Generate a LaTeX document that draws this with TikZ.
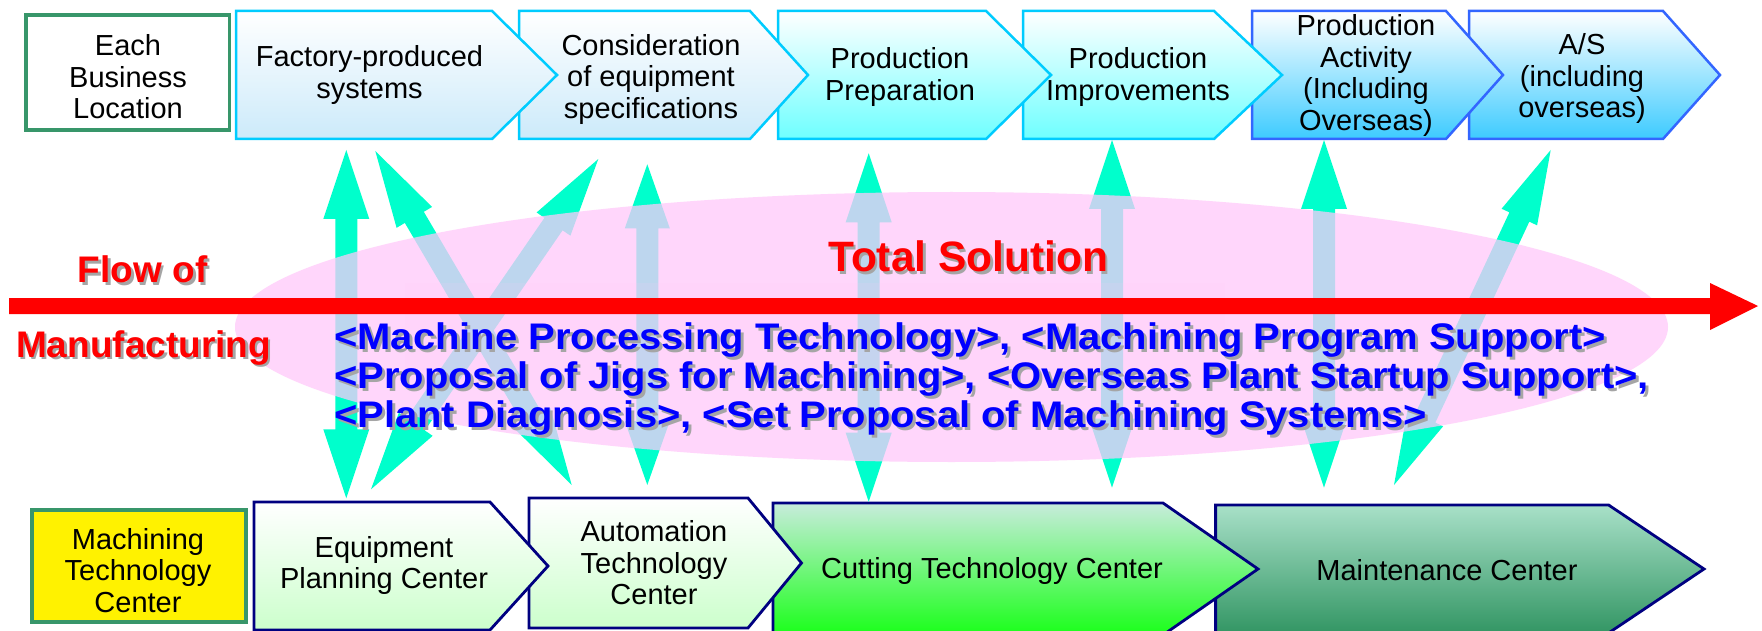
\documentclass[tikz,border=0pt]{standalone}
\usepackage{fontspec}
\setmainfont{Liberation Sans}
\newfontfamily\widesans[FakeStretch=1.08]{Liberation Sans}
\usetikzlibrary{calc}

\definecolor{cyanline}{RGB}{0,204,255}
\definecolor{blueline}{RGB}{51,102,255}
\definecolor{fillA}{RGB}{204,234,250}
\definecolor{fillB}{RGB}{110,255,255}
\definecolor{fillC}{RGB}{61,203,255}
\definecolor{navyline}{RGB}{0,0,128}
\definecolor{palegreen}{RGB}{204,255,204}
\definecolor{cuttop}{RGB}{200,236,220}
\definecolor{cutmid}{RGB}{120,244,140}
\definecolor{cutbot}{RGB}{26,255,26}
\definecolor{maintop}{RGB}{168,224,200}
\definecolor{mainbot}{RGB}{51,150,100}
\definecolor{frameGreen}{RGB}{56,150,106}
\definecolor{arrowcyan}{RGB}{0,255,204}
\definecolor{pinkfill}{RGB}{255,201,250}
\definecolor{flowred}{RGB}{255,0,0}
\definecolor{textblue}{RGB}{0,0,255}
\definecolor{shadowgray}{RGB}{165,165,165}

% chevron: #1 style, #2 left, #3 body right, #4 tip x, #5 top y, #6 bottom y
\newcommand\chevron[6]{\path[#1] (#2,#5) -- (#3,#5) -- (#4,{(#5+#6)/2}) -- (#3,#6) -- (#2,#6) -- cycle;}
% double block arrow between named coordinates #1 and #2; #3 head length; #4 head half width
\newcommand\dblarrow[4]{%
  \coordinate (hA) at ($(#1)!#3!(#2)$);
  \coordinate (hB) at ($(#2)!#3!(#1)$);
  \fill[arrowcyan] (#1) -- ($(hA)!#4!90:(#2)$) -- ($(hA)!11pt!90:(#2)$)
    -- ($(hB)!11pt!-90:(#1)$) -- ($(hB)!#4!-90:(#1)$) -- (#2)
    -- ($(hB)!#4!90:(#1)$) -- ($(hB)!11pt!90:(#1)$)
    -- ($(hA)!11pt!-90:(#2)$) -- ($(hA)!#4!-90:(#2)$) -- cycle;}

\tikzset{
  topA/.style={draw=cyanline, line width=2.5pt, top color=white, bottom color=fillA},
  topB/.style={draw=cyanline, line width=2.5pt, top color=white, bottom color=fillB},
  topC/.style={draw=blueline, line width=2.5pt, top color=white, bottom color=fillC},
  botA/.style={draw=navyline, line width=2.8pt, top color=white, bottom color=palegreen},
  botCut/.style={draw=navyline, line width=2.8pt, top color=cuttop, middle color=cutmid, bottom color=cutbot},
  botMain/.style={draw=navyline, line width=2.8pt, top color=maintop, bottom color=mainbot},
  boxtxt/.style={font=\fontsize{29}{31.5}\selectfont, align=center, inner sep=0pt, text=black},
  redtxt/.style={font=\bfseries\fontsize{37}{40}\selectfont, text=flowred, inner sep=0pt, anchor=base},
  bigredtxt/.style={font=\bfseries\fontsize{42.5}{46}\selectfont, text=flowred, inner sep=0pt, anchor=base west},
  bluetxt/.style={font=\widesans\bfseries\fontsize{37}{40}\selectfont, text=textblue, inner sep=0pt, anchor=base west},
  txtshadow/.style={text=shadowgray}
}

\begin{document}
\begin{tikzpicture}[x=1pt, y=-1pt]
\useasboundingbox (0,0) rectangle (1762,631);
\clip (0,0) rectangle (1762,631);
\fill[white] (0,0) rectangle (1762,631);

% ---------- top row ----------
\chevron{topC}{1469}{1663}{1720}{11}{139}
\chevron{topC}{1252}{1446}{1503}{11}{139}
\chevron{topB}{1023}{1214}{1282}{11}{139}
\chevron{topB}{778}{986}{1051}{11}{139}
\chevron{topA}{519}{750}{808}{11}{139}
\chevron{topA}{236}{492}{557}{11}{139}
\draw[frameGreen, line width=3.2pt, fill=white] (26,15) rectangle (229.6,130);

% ---------- bottom row ----------
\chevron{botMain}{1215.6}{1608.6}{1704}{505}{633}
\chevron{botCut}{773}{1163}{1258}{503}{635}
\chevron{botA}{529}{748}{801.5}{498}{628}
\chevron{botA}{254}{490}{548}{502}{630}
\draw[frameGreen, line width=4pt, fill=yellow] (32,510) rectangle (246,622);

% ---------- cyan double arrows ----------
\coordinate (a1t) at (346.3,150);   \coordinate (a1b) at (346.3,498.3);
\coordinate (a2t) at (375.3,151);   \coordinate (a2b) at (571.7,485);
\coordinate (a3t) at (598.3,159);   \coordinate (a3b) at (371,489.3);
\coordinate (a4t) at (647.3,164.3); \coordinate (a4b) at (647.3,485);
\coordinate (a5t) at (868.7,153.3); \coordinate (a5b) at (868.7,501.7);
\coordinate (a6t) at (1112,140);    \coordinate (a6b) at (1112,487.7);
\coordinate (a7t) at (1324,140);    \coordinate (a7b) at (1324,487.7);
\coordinate (a8t) at (1550.7,150);  \coordinate (a8b) at (1394,485);
\dblarrow{a1t}{a1b}{69pt}{23pt}
\dblarrow{a2t}{a2b}{77pt}{20.6pt}
\dblarrow{a3t}{a3b}{79pt}{20.5pt}
\dblarrow{a4t}{a4b}{64pt}{22.5pt}
\dblarrow{a5t}{a5b}{69pt}{23pt}
\dblarrow{a6t}{a6b}{69pt}{23pt}
\dblarrow{a7t}{a7b}{69pt}{23pt}
\dblarrow{a8t}{a8b}{74pt}{19.6pt}

% ---------- pink ellipse ----------
\fill[pinkfill, opacity=0.74] (951.5,327) ellipse [x radius=716.5, y radius=135];
\fill[pinkfill, opacity=0.12] (405,283) rectangle (1225,380);

% ---------- red flow arrow ----------
\coordinate (flowtail) at (9,306);
\coordinate (flowtip) at (1758,306);
\fill[flowred] ($(flowtail)+(0,-8)$) -- (1710,298) -- (1710,283) -- (flowtip)
  -- (1710,330) -- (1710,314) -- ($(flowtail)+(0,8)$) -- cycle;

% ---------- box texts ----------
\node[boxtxt] (each) at (128,77) {Each\\Business\\Location};
\node[boxtxt] (factory) at (369.5,75) {Factory-produced\\systems};
\node[boxtxt] (consid) at (651,79.5) {Consideration\\of equipment\\specifications};
\node[boxtxt] (prep) at (900,77) {Production\\Preparation};
\node[boxtxt] (improve) at (1138,77) {Production\\Improvements};
\node[boxtxt] (activity) at (1366,75.5) {Production\\Activity\\(Including\\Overseas)};
\node[boxtxt] (as) at (1582,78.7) {A/S\\(including\\overseas)};

\node[boxtxt] (mtc) at (138,570.5) {Machining\\Technology\\Center};
\node[boxtxt] (epc) at (384,565.7) {Equipment\\Planning Center};
\node[boxtxt] (atc) at (654,562.8) {Automation\\Technology\\Center};
\node[boxtxt] (ctc) at (992,570.6) {Cutting Technology Center};
\node[boxtxt] (mc) at (1447,570.6) {Maintenance Center};

% ---------- red labels ----------
\node[redtxt, txtshadow] (flowS) at (145.2,285.5) {Flow of};
\node[redtxt] (flow) at (142.7,283) {Flow of};
\node[redtxt, txtshadow] (manuS) at (146.1,359.5) {Manufacturing};
\node[redtxt] (manu) at (143.6,357) {Manufacturing};
\node[bigredtxt, txtshadow] (totalS) at (830.5,274.5) {Total Solution};
\node[bigredtxt] (total) at (828,272) {Total Solution};

% ---------- blue text ----------
\node[bluetxt, txtshadow] (l1S) at (337,352) {<Machine Processing Technology>, <Machining Program Support>};
\node[bluetxt] (l1) at (334,349) {<Machine Processing Technology>, <Machining Program Support>};
\node[bluetxt, txtshadow] (l2S) at (337,391.5) {<Proposal of Jigs for Machining>, <Overseas Plant Startup Support>,};
\node[bluetxt] (l2) at (334,388.5) {<Proposal of Jigs for Machining>, <Overseas Plant Startup Support>,};
\node[bluetxt, txtshadow] (l3S) at (337,430.5) {<Plant Diagnosis>, <Set Proposal of Machining Systems>};
\node[bluetxt] (l3) at (334,427.5) {<Plant Diagnosis>, <Set Proposal of Machining Systems>};
\end{tikzpicture}
\end{document}
